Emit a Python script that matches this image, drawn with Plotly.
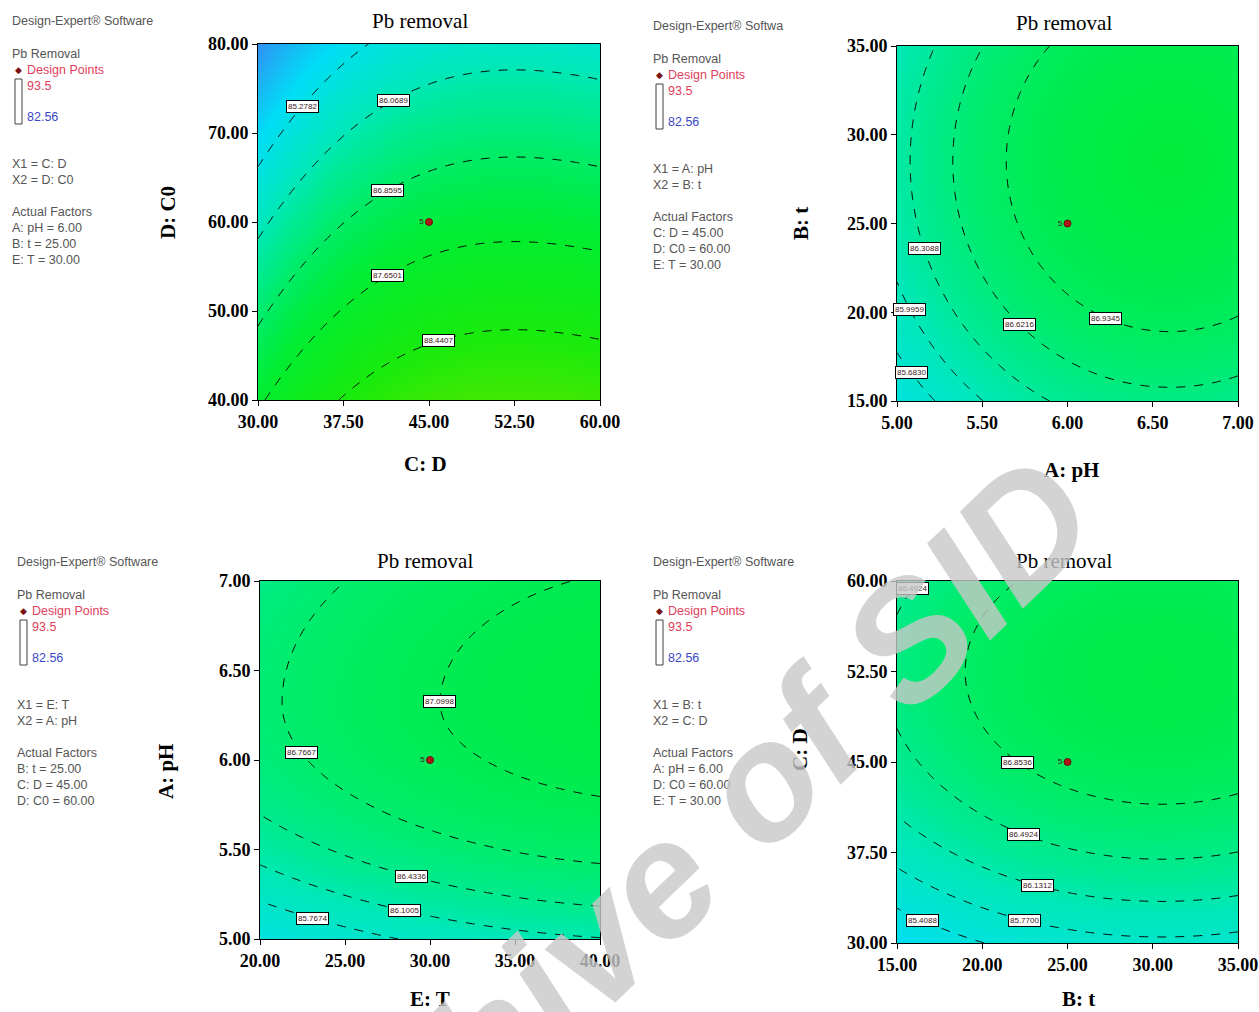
import numpy as np
import plotly.graph_objects as go

W, H = 1259, 1012

# ---------------- data ----------------
titles = ["Pb removal", "Pb removal", "Pb removal", "Pb removal"]
x_titles = ["C: D", "A: pH", "E: T", "B: t"]
y_titles = ["D: C0", "B: t", "A: pH", "C: D"]
x_ranges = [[30, 60], [5, 7], [20, 40], [15, 35]]
y_ranges = [[40, 80], [15, 35], [5, 7], [30, 60]]
x_ticks = [[30, 37.5, 45, 52.5, 60], [5, 5.5, 6, 6.5, 7], [20, 25, 30, 35, 40], [15, 20, 25, 30, 35]]
y_ticks = [[40, 50, 60, 70, 80], [15, 20, 25, 30, 35], [5, 5.5, 6, 6.5, 7], [30, 37.5, 45, 52.5, 60]]
design_x = [45, 6, 30, 25]
design_y = [60, 25, 6, 45]
design_count = ["5", "5", "5", "5"]

levels_1 = [85.2782, 86.0689, 86.8595, 87.6501, 88.4407]
levels_2 = [85.6830, 85.9959, 86.3088, 86.6216, 86.9345]
levels_3 = [85.7674, 86.1005, 86.4336, 86.7667, 87.0998]
levels_4 = [85.4088, 85.7700, 86.1312, 86.4924, 86.8536]

# contour label (level, approx x, approx y)
labels_1 = [(85.2782, 33.5, 73.9), (86.0689, 42.3, 72.9), (86.8595, 42.7, 61.8), (87.6501, 42.5, 52.8), (88.4407, 46.1, 46.6)]
labels_2 = [(85.6830, 5.12, 16.6), (85.9959, 5.14, 20.3), (86.3088, 5.22, 23.9), (86.6216, 5.69, 18.8), (86.9345, 6.23, 19.6)]
labels_3 = [(87.0998, 30.6, 6.34), (86.7667, 23.1, 6.05), (86.4336, 29.1, 5.44), (86.1005, 29.0, 5.24), (85.7674, 24.1, 5.14)]
labels_4 = [(86.8536, 21.7, 45.0), (86.4924, 22.4, 39.0), (86.4924, 16.2, 59.0), (86.1312, 23.0, 35.0), (85.7700, 22.8, 31.7), (85.4088, 16.8, 32.2)]

side_texts = [
    ["X1 = C: D", "X2 = D: C0", "Actual Factors", "A: pH = 6.00", "B: t = 25.00", "E: T = 30.00"],
    ["X1 = A: pH", "X2 = B: t", "Actual Factors", "C: D = 45.00", "D: C0 = 60.00", "E: T = 30.00"],
    ["X1 = E: T", "X2 = A: pH", "Actual Factors", "B: t = 25.00", "C: D = 45.00", "D: C0 = 60.00"],
    ["X1 = B: t", "X2 = C: D", "Actual Factors", "A: pH = 6.00", "D: C0 = 60.00", "E: T = 30.00"],
]
resp_hi, resp_lo = "93.5", "82.56"


def interp_ext(x, xp, fp):
    xp = np.asarray(xp, float)
    fp = np.asarray(fp, float)
    y = np.interp(x, xp, fp)
    s0 = (fp[1] - fp[0]) / (xp[1] - xp[0])
    s1 = (fp[-1] - fp[-2]) / (xp[-1] - xp[-2])
    y = np.where(x < xp[0], fp[0] + (x - xp[0]) * s0, y)
    y = np.where(x > xp[-1], fp[-1] + (x - xp[-1]) * s1, y)
    return y


# ---------------- response models ----------------
def model(i, X, Y):
    if i == 0:
        e = X - 52.5
        u = Y + 0.024 * e ** 2 - 0.0006 * e ** 3
        return interp_ext(u, [47.9, 57.8, 67.3, 77.1, 85.2], levels_1[::-1])
    if i == 1:
        q = (X - 6.6) ** 2 + ((Y - 28.5) / 10.0) ** 2
        return 86.9345 - 0.447 * (q - 0.92)
    if i == 2:
        d = Y - 6.32
        a = np.where(d < 0, d ** 2, 0.53 * d ** 2)
        s = X - 20
        w = a - 0.0752 * (s - 0.02 * s ** 2)
        return interp_ext(w, [-0.628, -0.095, 0.39, 0.82, 1.23], levels_3[::-1])
    q = ((X - 30.5) / 11.5) ** 2 + ((Y - 52.5) / 11.0) ** 2
    return 86.8536 - 0.3612 * (q - 1)


all_levels = [levels_1, levels_2, levels_3, levels_4]
all_labels = [labels_1, labels_2, labels_3, labels_4]

# panel placement in pixels (left, right, top, bottom)
boxes = [(258, 600, 44, 400), (897, 1238, 46, 401), (260, 600, 581, 939), (897, 1238, 581, 943)]
title_pos = [(420, 21), (1064, 23), (425, 561), (1064, 561)]
xtitle_pos = [(425, 464), (1071, 470), (430, 999), (1078, 999)]
ytitle_pos = [(168, 212), (801, 224), (166, 772), (800, 750)]
side_x = [10, 651, 15, 651]
side_y0 = [21, 26, 562, 562]

colorscale = [
    [0.0, "rgb(45,150,245)"],
    [0.192, "rgb(0,222,245)"],
    [0.385, "rgb(0,232,185)"],
    [0.538, "rgb(0,236,105)"],
    [0.673, "rgb(0,237,50)"],
    [0.865, "rgb(25,235,12)"],
    [1.0, "rgb(75,232,0)"],
]
ZMIN, ZMAX = 84.0, 89.2

fig = go.Figure()
annotations = []
shapes = []

serif = "Liberation Serif"
sans = "Liberation Sans"

for i in range(4):
    ax = "" if i == 0 else str(i + 1)
    xr, yr = x_ranges[i], y_ranges[i]
    xs = np.linspace(xr[0], xr[1], 241)
    ys = np.linspace(yr[0], yr[1], 241)
    XX, YY = np.meshgrid(xs, ys)
    Z = model(i, XX, YY)

    fig.add_trace(go.Heatmap(x=xs, y=ys, z=Z, zsmooth="best", colorscale=colorscale,
                             zmin=ZMIN, zmax=ZMAX, showscale=False, hoverinfo="skip",
                             xaxis="x" + ax, yaxis="y" + ax))
    for L in all_levels[i]:
        fig.add_trace(go.Contour(x=xs, y=ys, z=Z, showscale=False, hoverinfo="skip",
                                 contours=dict(start=L, end=L, size=1, coloring="none"),
                                 line=dict(color="black", width=1, dash="dash"),
                                 xaxis="x" + ax, yaxis="y" + ax))
    fig.add_trace(go.Scatter(x=[design_x[i]], y=[design_y[i]], mode="markers+text",
                             text=[design_count[i]], textposition="middle left",
                             textfont=dict(size=8, color="#402020", family=sans),
                             marker=dict(size=7, color="#b01818", line=dict(color="#601010", width=1)),
                             hoverinfo="skip", showlegend=False,
                             xaxis="x" + ax, yaxis="y" + ax))
    xspan = xr[1] - xr[0]
    yspan = yr[1] - yr[0]
    lv = all_levels[i]
    step = (max(lv) - min(lv)) / (len(lv) - 1)
    for (L, gx, gy) in all_labels[i]:
        cost = ((XX - gx) / xspan) ** 2 + ((YY - gy) / yspan) ** 2 + 200 * ((Z - L) / step) ** 2
        k = np.unravel_index(np.argmin(cost), cost.shape)
        annotations.append(dict(x=XX[k], y=YY[k], xref="x" + ax, yref="y" + ax, text=f"{L:.4f}",
                                xanchor="center", yanchor="middle",
                                showarrow=False, font=dict(size=8, color="#3a2020", family=sans),
                                bgcolor="white", bordercolor="black", borderwidth=1, borderpad=1))

    l, r, t, b = boxes[i]
    fmt = [f"{v:.2f}" for v in x_ticks[i]]
    fmty = [f"{v:.2f}" for v in y_ticks[i]]
    tickfont = dict(family=serif, size=18, color="black", weight="bold")
    fig.layout["xaxis" + ax] = dict(domain=[l / W, r / W], range=xr, tickvals=x_ticks[i], ticktext=fmt,
                                    ticks="outside", ticklen=5, tickcolor="black", showline=True,
                                    linecolor="black", linewidth=1, mirror=True, showgrid=False,
                                    zeroline=False, tickfont=tickfont, anchor="y" + ax, fixedrange=True,
                                    automargin=False)
    fig.layout["yaxis" + ax] = dict(domain=[1 - b / H, 1 - t / H], range=yr, tickvals=y_ticks[i], ticktext=fmty,
                                    ticks="outside", ticklen=5, tickcolor="black", showline=True,
                                    linecolor="black", linewidth=1, mirror=True, showgrid=False,
                                    zeroline=False, tickfont=tickfont, anchor="x" + ax, fixedrange=True,
                                    automargin=False)
    tx, ty = title_pos[i]
    annotations.append(dict(x=tx / W, y=1 - ty / H, xref="paper", yref="paper", text=titles[i],
                            xanchor="center", yanchor="middle",
                            showarrow=False, font=dict(family=serif, size=21, color="black")))
    tx, ty = xtitle_pos[i]
    annotations.append(dict(x=tx / W, y=1 - ty / H, xref="paper", yref="paper",
                            text=f"<b>{x_titles[i]}</b>", showarrow=False, xanchor="center", yanchor="middle",
                            font=dict(family=serif, size=21, color="black")))
    tx, ty = ytitle_pos[i]
    annotations.append(dict(x=tx / W, y=1 - ty / H, xref="paper", yref="paper",
                            text=f"<b>{y_titles[i]}</b>", showarrow=False, textangle=-90,
                            xanchor="center", yanchor="middle",
                            font=dict(family=serif, size=21, color="black")))

    sx, sy = side_x[i], side_y0[i]

    def txt(dy, s, color="#505050", size=12.5, dx=0):
        annotations.append(dict(x=(sx + dx) / W, y=1 - (sy + dy) / H, xref="paper", yref="paper",
                                text=s, showarrow=False, xanchor="left", yanchor="middle",
                                font=dict(family=sans, size=size, color=color)))
    head = "Design-Expert® Software" if i != 1 else "Design-Expert® Softwa"
    txt(0, head, "#555555")
    txt(33, "Pb Removal", "#555555")
    txt(49, "◆", "#7a1010", 9, dx=3)
    txt(49, "Design Points", "#e0405a", dx=15)
    txt(65, resp_hi, "#e0405a", dx=15)
    txt(96, resp_lo, "#3a48c8", dx=15)
    shapes.append(dict(type="rect", xref="paper", yref="paper",
                       x0=(sx + 5) / W, x1=(sx + 12) / W, y0=1 - (sy + 103) / H, y1=1 - (sy + 58) / H,
                       line=dict(color="#404040", width=1), fillcolor="white"))
    offs = [143, 159, 191, 207, 223, 239]
    for dy, s in zip(offs, side_texts[i]):
        txt(dy, s, "#555555")

# watermark
annotations.append(dict(x=660 / W, y=1 - 880 / H, xref="paper", yref="paper", text="<b>Archive of SID</b>",
                        showarrow=False, textangle=-44, xanchor="center", yanchor="middle",
                        font=dict(family=sans, size=165, color="rgba(200,200,200,0.8)", style="italic")))

fig.update_layout(width=W, height=H, margin=dict(l=0, r=0, t=0, b=0, autoexpand=False), paper_bgcolor="white",
                  plot_bgcolor="white", showlegend=False, annotations=annotations, shapes=shapes,
                  autosize=False)
fig.write_html("out.html", config={"responsive": False},
               default_width="1259px", default_height="1012px",
               post_script="document.body.style.margin='0';document.body.style.overflow='hidden';")
